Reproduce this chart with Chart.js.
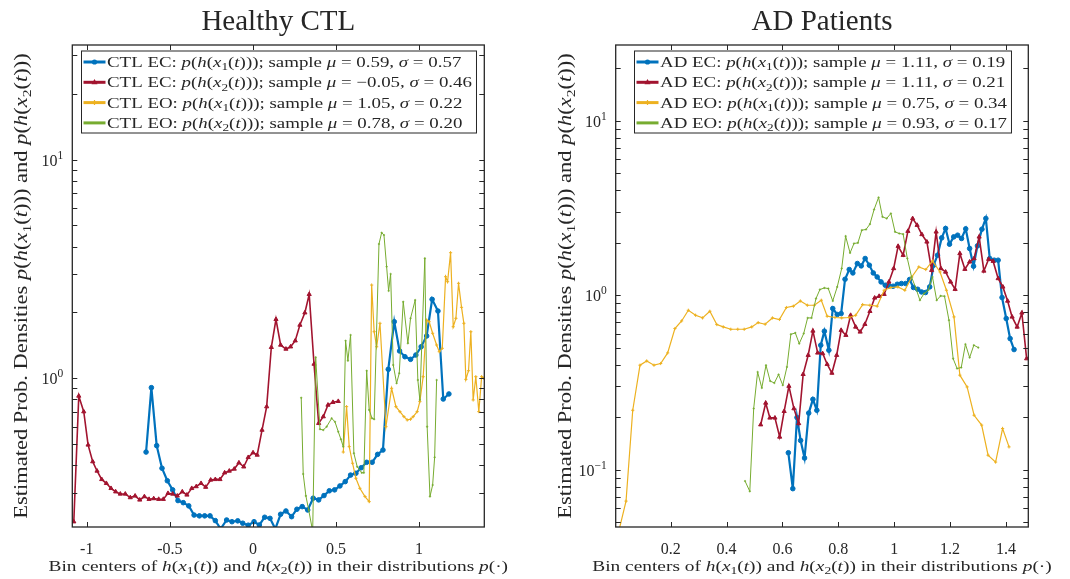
<!DOCTYPE html>
<html>
<head>
<meta charset="utf-8">
<title>Estimated densities of h(x1(t)) and h(x2(t)): Healthy CTL vs AD Patients</title>
<script src="https://cdn.jsdelivr.net/npm/chart.js@4.4.1/dist/chart.umd.min.js"></script>
<style>
  html, body { margin: 0; padding: 0; background: #fff; }
  #wrap { position: relative; width: 1070px; height: 579px; }
  .panel { position: absolute; top: 0; width: 535px; height: 579px; }
  #panel-ctl { left: 0; }
  #panel-ad { left: 535px; }
</style>
</head>
<body>
<div id="wrap">
  <div class="panel" id="panel-ctl"><canvas id="chart-ctl" width="535" height="579"></canvas></div>
  <div class="panel" id="panel-ad"><canvas id="chart-ad" width="535" height="579"></canvas></div>
</div>
<script>
// Bin densities of h(x1(t)) / h(x2(t)), eyes closed (EC) and eyes open (EO), two groups

const INK = "#262626";
const SERIF = '"Liberation Serif", "DejaVu Serif", serif';
const COLORS = ["#0072BD", "#A2142F", "#EDB120", "#77AC30"];

// ---- Healthy CTL ----
const ctlEc1X = [-0.643,-0.611,-0.579,-0.547,-0.515,-0.483,-0.451,-0.419,-0.386,-0.354,-0.322,-0.290,-0.258,-0.226,-0.194,
  -0.158,-0.126,-0.091,-0.061,-0.028,0.007,0.039,0.071,0.103,0.135,0.167,0.199,0.233,0.265,0.297,0.330,0.363,0.396,0.428,
  0.460,0.492,0.524,0.556,0.588,0.620,0.652,0.685,0.718,0.751,0.783,0.815,0.851,0.883,0.915,0.949,0.981,1.013,1.046,1.079,
  1.114,1.146,1.180];
const ctlEc1Y = [0.460,0.906,0.492,0.388,0.340,0.309,0.276,0.270,0.261,0.237,0.235,0.235,0.235,0.2235,0.205,
  0.225,0.221,0.223,0.2175,0.213,0.221,0.2136,0.2316,0.229,0.205,0.239,0.2474,0.233,0.252,0.259,0.250,0.283,0.278,0.291,
  0.306,0.309,0.322,0.337,0.361,0.368,0.390,0.413,0.413,0.449,0.470,1.099,1.814,1.333,1.255,1.221,1.278,1.394,1.561,2.296,
  2.030,0.804,0.848];

const ctlEc2X = [-1.078,-1.048,-1.018,-0.992,-0.964,-0.938,-0.910,-0.882,-0.854,-0.826,-0.798,-0.768,-0.738,-0.709,-0.681,
  -0.653,-0.625,-0.597,-0.567,-0.539,-0.511,-0.483,-0.455,-0.425,-0.397,-0.368,-0.341,-0.312,-0.284,-0.254,-0.226,-0.198,
  -0.170,-0.142,-0.112,-0.084,-0.055,-0.028,0.001,0.026,0.055,0.083,0.111,0.139,0.167,0.199,0.227,0.255,0.283,0.313,0.339,
  0.368,0.396,0.424,0.452,0.482,0.514];
const ctlEc2Y = [0.221,0.830,0.704,0.496,0.416,0.377,0.345,0.331,0.314,0.303,0.296,0.296,0.285,0.290,0.278,
  0.288,0.280,0.282,0.280,0.280,0.298,0.296,0.290,0.303,0.293,0.314,0.320,0.331,0.318,0.343,0.345,0.345,
  0.370,0.377,0.385,0.411,0.394,0.435,0.457,0.446,0.580,0.742,1.386,1.861,1.420,1.361,1.394,1.485,1.752,1.994,2.421,
  1.162,0.623,0.668,0.755,0.777,0.785];

const ctlEo1X = [0.544,0.564,0.580,0.600,0.620,0.644,0.675,0.700,0.715,0.730,0.745,0.765,0.801,0.835,0.861,0.885,0.909,
  0.929,0.949,0.965,0.989,1.005,1.025,1.046,1.061,1.082,1.106,1.122,1.140,1.160,1.172,1.190,1.206,1.222,1.238,1.256,1.270,
  1.282,1.298,1.312,1.326,1.342,1.360,1.377,1.390];
const ctlEo1Y = [0.460,0.742,0.487,0.409,0.349,0.314,0.288,0.273,2.669,1.633,1.394,1.784,0.601,0.900,0.742,0.704,0.668,
  0.645,0.650,0.668,0.704,0.782,1.017,1.847,1.814,1.606,1.420,1.323,1.371,2.913,2.764,3.750,1.721,1.880,2.718,2.111,1.784,
  0.989,1.083,1.633,0.796,1.017,0.704,1.017,1.000];

const ctlEo2X = [0.291,0.303,0.319,0.336,0.360,0.378,0.404,0.424,0.444,0.474,0.494,0.514,0.530,0.544,0.558,0.572,0.588,
  0.608,0.628,0.655,0.668,0.685,0.700,0.717,0.730,0.759,0.775,0.789,0.805,0.817,0.829,0.845,0.865,0.881,0.905,0.933,0.949,
  0.977,0.993,1.005,1.035,1.049,1.066,1.082,1.094,1.106];
const ctlEo2Y = [0.815,0.365,0.290,0.250,0.200,1.247,0.585,0.580,0.601,0.656,0.633,0.570,0.526,0.487,1.485,1.204,1.577,
  0.454,0.394,0.370,0.370,1.083,0.717,0.656,0.650,4.11,4.63,4.52,3.24,2.51,3.00,1.150,0.949,1.054,2.239,1.445,1.880,
  2.279,0.982,0.796,3.535,0.601,0.288,0.325,0.435,0.982];

const ctlNames = ["CTL EC", "CTL EC", "CTL EO", "CTL EO"];
const ctlMu = [0.59, -0.05, 1.05, 0.78];
const ctlSigma = [0.57, 0.46, 0.22, 0.20];
const ctlXTicks = [-1, -0.5, 0, 0.5, 1];
const ctlYExps = [0, 1];

// ---- AD Patients ----
const adEc1X = [0.621,0.637,0.652,0.665,0.679,0.694,0.709,0.723,0.737,0.750,0.766,0.780,0.796,0.810,0.824,0.839,0.852,
  0.868,0.882,0.896,0.911,0.925,0.939,0.953,0.968,0.982,0.996,1.011,1.026,1.041,1.055,1.069,1.084,1.098,1.112,1.127,1.141,
  1.155,1.170,1.184,1.198,1.213,1.227,1.241,1.256,1.270,1.284,1.298,1.314,1.328,1.342,1.358,1.372,1.386,1.401,1.415,1.429];
const adEc1Y = [0.125,0.0778,0.199,0.147,0.1166,0.211,0.253,0.219,0.517,0.622,0.484,0.839,0.775,0.785,1.235,1.404,1.342,
  1.520,1.473,1.624,1.486,1.342,1.273,1.192,1.141,1.131,1.126,1.156,1.167,1.167,1.230,1.107,1.082,1.044,1.036,1.116,1.486,
  1.696,2.132,2.414,1.962,2.160,2.209,2.115,2.401,1.853,1.467,1.918,2.391,2.754,1.624,1.588,1.588,0.970,0.735,0.564,0.488];

const adEc2X = [0.522,0.540,0.555,0.573,0.590,0.606,0.623,0.641,0.658,0.674,0.692,0.709,0.726,0.744,0.760,0.777,0.794,
  0.810,0.827,0.844,0.862,0.878,0.895,0.913,0.930,0.946,0.964,0.981,0.998,1.014,1.032,1.049,1.066,1.082,1.099,1.117,1.134,
  1.150,1.167,1.184,1.202,1.218,1.235,1.253,1.270,1.286,1.304,1.321,1.338,1.354,1.372,1.389,1.406,1.422,1.440,1.457,1.474];
const adEc2Y = [0.181,0.241,0.198,0.198,0.154,0.216,0.301,0.224,0.184,0.352,0.453,0.624,0.467,0.463,0.402,0.358,0.453,
  0.630,0.590,0.768,0.658,0.616,0.682,0.809,0.965,0.987,1.013,1.192,1.423,1.910,1.696,2.329,2.754,2.521,2.230,2.022,1.391,
  2.308,1.423,1.360,1.192,1.082,1.735,1.410,1.553,1.624,2.160,1.378,1.609,1.567,1.247,1.116,0.927,0.751,0.658,0.792,0.433];

const adEo1X = [0.015,0.040,0.064,0.090,0.114,0.140,0.164,0.189,0.215,0.239,0.263,0.289,0.314,0.340,0.365,0.388,0.415,
  0.440,0.463,0.490,0.513,0.538,0.564,0.589,0.614,0.639,0.664,0.689,0.714,0.739,0.760,0.788,0.812,0.838,0.862,0.887,0.913,
  0.939,0.964,0.988,1.013,1.038,1.063,1.088,1.113,1.137,1.164,1.187,1.214,1.235,1.261,1.286,1.313,1.336,1.363,1.388,1.411];
const adEo1Y = [0.045,0.066,0.219,0.397,0.420,0.397,0.406,0.467,0.644,0.712,0.820,0.768,0.741,0.809,0.679,0.658,0.638,
  0.638,0.638,0.658,0.697,0.682,0.741,0.726,0.850,0.865,0.927,0.876,0.876,0.936,0.758,0.745,0.741,0.745,0.768,0.884,0.876,
  0.865,1.068,1.107,1.116,1.068,1.273,1.453,1.404,1.573,1.360,1.068,0.751,0.348,0.298,0.205,0.180,0.121,0.1105,0.172,0.135];

const adEo2X = [0.466,0.483,0.497,0.511,0.526,0.541,0.556,0.571,0.586,0.601,0.616,0.630,0.646,0.660,0.676,0.690,0.704,
  0.720,0.734,0.750,0.764,0.780,0.796,0.812,0.826,0.842,0.856,0.870,0.884,0.899,0.913,0.928,0.944,0.958,0.973,0.988,1.003,
  1.018,1.032,1.047,1.062,1.078,1.092,1.107,1.122,1.137,1.152,1.166,1.180,1.196,1.211,1.225,1.240,1.255,1.270,1.285,1.301];
const adEo2Y = [0.086,0.0751,0.224,0.363,0.294,0.397,0.322,0.314,0.351,0.305,0.388,0.597,0.608,0.528,0.603,0.741,0.741,
  0.957,1.078,1.101,1.092,0.927,1.116,1.423,2.181,1.748,1.980,1.996,2.360,2.382,2.555,3.101,3.636,2.814,2.754,2.943,2.308,
  2.259,2.239,1.624,1.273,1.092,0.936,1.023,1.068,1.273,0.936,0.991,0.987,0.719,0.433,0.380,0.385,0.524,0.439,0.517,0.501];

const adNames = ["AD EC", "AD EC", "AD EO", "AD EO"];
const adMu = [1.11, 1.11, 0.75, 0.93];
const adSigma = [0.19, 0.21, 0.34, 0.17];
const adXTicks = [0.2, 0.4, 0.6, 0.8, 1, 1.2, 1.4];
const adYExps = [-1, 0, 1];

// which signal each series belongs to (x_1 or x_2)
const SIGNAL_IDX = [1, 2, 1, 2];

const SERIES_STYLE = [
  { width: 2.2, point: "circle", radius: 2.3, border: 1, legendMark: "circle" },
  { width: 1.6, point: "triangle", radius: 2.4, border: 1, legendMark: "triangle" },
  { width: 1.2, point: "cross", radius: 1.6, border: 1, legendMark: "cross" },
  { width: 1, point: "circle", radius: 0.8, border: 0.5, legendMark: "none" },
];

const TICK = 5;
// Times is narrower than the TeX face the labels were set in; widen it a little
const STRETCH = 1.26;

// ---- tiny $math$ markup -> roman / italic / subscript runs ----
function parseRich(str) {
  const runs = [];
  let math = false;
  for (let i = 0; i < str.length; i++) {
    const c = str[i];
    if (c === "$") { math = !math; continue; }
    if (math && c === "_") { runs.push({ t: str[++i], k: "sub" }); continue; }
    const k = math && /[A-Za-zμσ]/.test(c) ? "it" : "rm";
    const last = runs[runs.length - 1];
    if (last && last.k === k) last.t += c; else runs.push({ t: c, k });
  }
  return runs;
}

function runFont(k, size) {
  if (k === "it") return `italic ${size}px ${SERIF}`;
  if (k === "sub") return `${(size * 0.7).toFixed(1)}px ${SERIF}`;
  return `${size}px ${SERIF}`;
}

function richWidth(ctx, str, size, sx = STRETCH) {
  let w = 0;
  for (const r of parseRich(str)) { ctx.font = runFont(r.k, size); w += ctx.measureText(r.t).width; }
  return w * sx;
}

function drawRich(ctx, str, x, baseline, size, align, sx = STRETCH) {
  const w = richWidth(ctx, str, size, sx);
  const x0 = align === "center" ? x - w / 2 : x;
  ctx.save();
  ctx.translate(x0, baseline);
  ctx.scale(sx, 1);
  ctx.textAlign = "left";
  ctx.textBaseline = "alphabetic";
  let cx = 0;
  for (const r of parseRich(str)) {
    ctx.font = runFont(r.k, size);
    ctx.fillText(r.t, cx, r.k === "sub" ? size * 0.22 : 0);
    cx += ctx.measureText(r.t).width;
  }
  ctx.restore();
  return w;
}

const fmtStat = (v) => (v < 0 ? "\u2212" + Math.abs(v).toFixed(2) : v.toFixed(2));

function legendLabel(name, i, mu, sigma) {
  return `${name}: $p(h(x_${SIGNAL_IDX[i]}(t)))$; sample $μ = ${fmtStat(mu)}, σ = ${fmtStat(sigma)}$`;
}

function drawMarker(ctx, style, x, y, color) {
  ctx.save();
  ctx.fillStyle = color;
  ctx.strokeStyle = color;
  ctx.lineWidth = 1.2;
  if (style === "circle") {
    ctx.beginPath(); ctx.arc(x, y, 2.6, 0, Math.PI * 2); ctx.fill();
  } else if (style === "triangle") {
    ctx.beginPath(); ctx.moveTo(x, y - 3.2); ctx.lineTo(x + 3, y + 2); ctx.lineTo(x - 3, y + 2); ctx.closePath(); ctx.fill();
  } else if (style === "cross") {
    ctx.beginPath(); ctx.moveTo(x - 2.5, y); ctx.lineTo(x + 2.5, y); ctx.moveTo(x, y - 2.5); ctx.lineTo(x, y + 2.5); ctx.stroke();
  }
  ctx.restore();
}

// frame, inward ticks, labels, titles and the legend box
const axesDecor = {
  id: "axesDecor",
  afterDatasetsDraw(chart, _args, opts) {
    const { ctx, chartArea: a } = chart;
    const xs = chart.scales.x, ys = chart.scales.y;
    ctx.save();
    ctx.strokeStyle = INK;
    ctx.fillStyle = INK;

    // tick marks on all four sides
    ctx.lineWidth = 1;
    ctx.beginPath();
    for (const v of opts.xTicks) {
      const px = Math.round(xs.getPixelForValue(v)) + 0.5;
      ctx.moveTo(px, a.bottom); ctx.lineTo(px, a.bottom - TICK);
      ctx.moveTo(px, a.top); ctx.lineTo(px, a.top + TICK);
    }
    const d0 = Math.floor(Math.log10(ys.min)), d1 = Math.ceil(Math.log10(ys.max));
    for (let d = d0; d <= d1; d++) {
      for (let k = 1; k <= 9; k++) {
        const v = k * Math.pow(10, d);
        if (v < ys.min || v > ys.max) continue;
        const py = Math.round(ys.getPixelForValue(v)) + 0.5;
        ctx.moveTo(a.left, py); ctx.lineTo(a.left + TICK, py);
        ctx.moveTo(a.right, py); ctx.lineTo(a.right - TICK, py);
      }
    }
    ctx.stroke();

    // box
    ctx.lineWidth = 1.3;
    ctx.strokeRect(a.left, a.top, a.right - a.left, a.bottom - a.top);

    // decade labels 10^e
    for (const e of opts.yExps) {
      const py = ys.getPixelForValue(Math.pow(10, e));
      const exp = e < 0 ? "\u2212" + (-e) : String(e);
      ctx.font = `11.5px ${SERIF}`;
      const ew = ctx.measureText(exp).width;
      ctx.font = `16px ${SERIF}`;
      const bw = ctx.measureText("10").width;
      const right = a.left - 9;
      ctx.textAlign = "left";
      ctx.textBaseline = "alphabetic";
      ctx.fillText("10", right - ew - bw, py + 6);
      ctx.font = `11.5px ${SERIF}`;
      ctx.fillText(exp, right - ew, py - 1);
    }

    // titles
    const midX = (a.left + a.right) / 2;
    ctx.font = `29px ${SERIF}`;
    ctx.textAlign = "center";
    ctx.textBaseline = "alphabetic";
    ctx.fillText(opts.title, midX, 30);
    drawRich(ctx, "Bin centers of $h(x_1(t))$ and $h(x_2(t))$ in their distributions $p(·)$", midX, 571, 15.5, "center", 1.25);
    ctx.save();
    ctx.translate(a.left - 50.5, (a.top + a.bottom) / 2);
    ctx.rotate(-Math.PI / 2);
    drawRich(ctx, "Estimated Prob. Densities $p(h(x_1(t)))$ and $p(h(x_2(t)))$", 0, 5.5, 18, "center", 1.25);
    ctx.restore();

    // legend, centred at the top of the axes
    const labels = opts.names.map((n, i) => legendLabel(n, i, opts.mu[i], opts.sigma[i]));
    const textW = Math.max(...labels.map(l => richWidth(ctx, l, 15)));
    const bw = 26 + textW + 4, bh = 82;
    const bx = Math.round(midX - bw / 2), by = a.top + 5.5;
    ctx.fillStyle = "#fff";
    ctx.fillRect(bx, by, bw, bh);
    ctx.lineWidth = 1;
    ctx.strokeStyle = INK;
    ctx.strokeRect(bx + 0.5, by + 0.5, bw, bh);
    labels.forEach((l, i) => {
      const cy = by + 11.5 + i * 20.3;
      ctx.strokeStyle = COLORS[i];
      ctx.lineWidth = 3;
      ctx.beginPath(); ctx.moveTo(bx + 2.5, cy); ctx.lineTo(bx + 24.5, cy); ctx.stroke();
      drawMarker(ctx, SERIES_STYLE[i].legendMark, bx + 13.5, cy, COLORS[i]);
      ctx.fillStyle = INK;
      drawRich(ctx, l, bx + 26, cy + 5, 15, "left");
    });
    ctx.restore();
  },
};

function buildDatasets(xsList, ysList) {
  return xsList.map((xs, i) => {
    const st = SERIES_STYLE[i];
    return {
      data: xs.map((x, j) => ({ x, y: ysList[i][j] })),
      borderColor: COLORS[i],
      backgroundColor: COLORS[i],
      borderWidth: st.width,
      pointStyle: st.point,
      pointRadius: st.radius,
      pointBorderWidth: st.border,
      tension: 0,
      fill: false,
      order: 3 - i,
    };
  });
}

function renderPanel(canvasId, cfg) {
  new Chart(document.getElementById(canvasId), {
    type: "line",
    data: { datasets: buildDatasets(cfg.xs, cfg.ys) },
    options: {
      responsive: false,
      animation: false,
      events: [],
      layout: { padding: { top: 45, right: cfg.padRight, left: 0, bottom: 0 } },
      plugins: {
        legend: { display: false },
        tooltip: { enabled: false },
        axesDecor: {
          title: cfg.title, xTicks: cfg.xTicks, yExps: cfg.yExps,
          names: cfg.names, mu: cfg.mu, sigma: cfg.sigma,
        },
      },
      scales: {
        x: {
          type: "linear",
          min: cfg.xRange[0], max: cfg.xRange[1],
          grid: { display: false },
          border: { display: false },
          afterBuildTicks: (s) => { s.ticks = cfg.xTicks.map(v => ({ value: v })); },
          afterFit: (s) => { s.height = 52; },
          ticks: {
            autoSkip: false, maxRotation: 0, padding: 5, color: INK,
            font: { family: SERIF, size: 16 },
            callback: (v) => (v < 0 ? "-" + Math.abs(v) : String(v)),
          },
        },
        y: {
          type: "logarithmic",
          min: cfg.yRange[0], max: cfg.yRange[1],
          grid: { display: false },
          border: { display: false },
          ticks: { display: false },
          afterFit: (s) => { s.width = cfg.padLeft; },
        },
      },
    },
    plugins: [axesDecor],
  });
}

renderPanel("chart-ctl", {
  title: "Healthy CTL",
  xs: [ctlEc1X, ctlEc2X, ctlEo1X, ctlEo2X],
  ys: [ctlEc1Y, ctlEc2Y, ctlEo1Y, ctlEo2Y],
  names: ctlNames, mu: ctlMu, sigma: ctlSigma,
  xTicks: ctlXTicks, yExps: ctlYExps,
  xRange: [-1.087, 1.393], yRange: [0.209, 33.4],
  padLeft: 72.3, padRight: 50.7,
});

renderPanel("chart-ad", {
  title: "AD Patients",
  xs: [adEc1X, adEc2X, adEo1X, adEo2X],
  ys: [adEc1Y, adEc2Y, adEo1Y, adEo2Y],
  names: adNames, mu: adMu, sigma: adSigma,
  xTicks: adXTicks, yExps: adYExps,
  xRange: [0.003, 1.48], yRange: [0.0469, 27.2],
  padLeft: 80.7, padRight: 41.7,
});
</script>
</body>
</html>
